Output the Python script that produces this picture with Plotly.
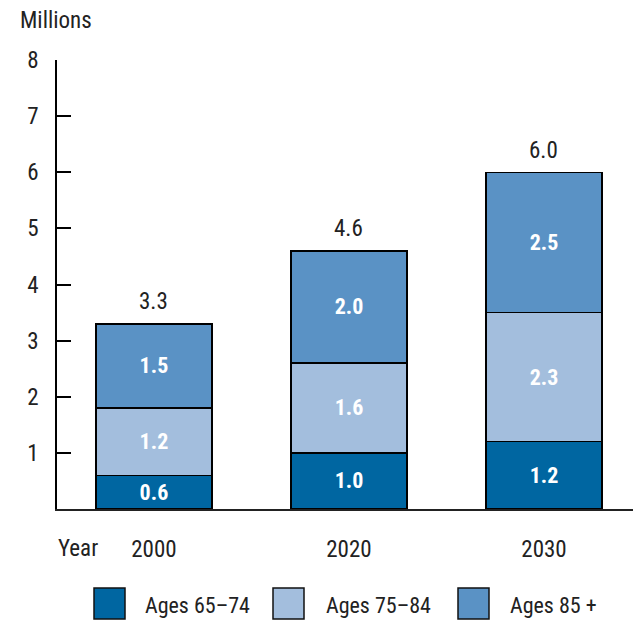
import plotly.graph_objects as go

years = ["2000", "2020", "2030"]
series_names = ["Ages 65\u201374", "Ages 75\u201384", "Ages 85 +"]
ages_65_74 = [0.6, 1.0, 1.2]
ages_75_84 = [1.2, 1.6, 2.3]
ages_85_plus = [1.5, 2.0, 2.5]
totals = [3.3, 4.6, 6.0]
y_ticks = [1, 2, 3, 4, 5, 6, 7, 8]

colors = ["#0066A1", "#A3BEDD", "#5A92C5"]
FONT = "Liberation Sans Narrow, Arial Narrow, Roboto Condensed, sans-serif"
TXT = "#222222"
FS = 23

OFF = 8  # page body margin
W, H = 641 - OFF, 624 - OFF
L, R, T, B = 57 - OFF, 638 - OFF, 60 - OFF, 509 - OFF

def px_x(px):
    return (px - OFF - L) / (R - L)

def px_y(py):
    return (B - (py - OFF)) / (B - T)

xpos = list(range(len(years)))
fig = go.Figure()
for name, vals, col in zip(series_names, [ages_65_74, ages_75_84, ages_85_plus], colors):
    fig.add_trace(go.Bar(
        x=xpos, y=vals, name=name, width=0.595,
        marker=dict(color=col, line=dict(color="#000000", width=1.5)),
        text=[f"{v:.1f}" for v in vals],
        textposition="inside", insidetextanchor="middle",
        textfont=dict(family=FONT, size=22, color="white", weight="bold"),
        constraintext="none",
        showlegend=False, hoverinfo="skip",
    ))

annotations = []
for xp, tot in zip(xpos, totals):
    annotations.append(dict(x=xp, y=tot, xref="x", yref="y", text=f"{tot:.1f}",
                            showarrow=False, yanchor="middle", yshift=22,
                            font=dict(family=FONT, size=FS, color=TXT)))
annotations.append(dict(x=px_x(18), y=px_y(20), xref="paper", yref="paper",
                        text="Millions", showarrow=False, xanchor="left", yanchor="middle",
                        font=dict(family=FONT, size=FS, color=TXT)))
annotations.append(dict(x=px_x(56), y=px_y(548), xref="paper", yref="paper",
                        text="Year", showarrow=False, xanchor="left", yanchor="middle",
                        font=dict(family=FONT, size=FS, color=TXT)))

shapes = []
legend_box_x = [94, 273, 458]
legend_text_x = [143, 324, 508]
for name, col, bx, tx in zip(series_names, colors, legend_box_x, legend_text_x):
    shapes.append(dict(type="rect", xref="paper", yref="paper",
                       x0=px_x(bx), x1=px_x(bx + 31), y0=px_y(619), y1=px_y(588),
                       fillcolor=col, line=dict(color="#111111", width=1.5)))
    annotations.append(dict(x=px_x(tx), y=px_y(605), xref="paper", yref="paper",
                            text=name, showarrow=False, xanchor="left", yanchor="middle",
                            font=dict(family=FONT, size=22, color=TXT)))

fig.update_layout(
    barmode="stack",
    width=W, height=H,
    margin=dict(l=L, r=W - R, t=T, b=H - B, pad=0),
    paper_bgcolor="white", plot_bgcolor="white",
    font=dict(family=FONT, size=FS, color=TXT),
    annotations=annotations, shapes=shapes,
    showlegend=False,
    xaxis=dict(range=[-0.497, 2.482], tickvals=xpos, ticktext=years,
               showline=True, linecolor="#222222", linewidth=1.5,
               showgrid=False, zeroline=False, ticks="",
               ticklabelstandoff=19, fixedrange=True),
    yaxis=dict(range=[0, 8], tickvals=y_ticks,
               showline=True, linecolor="#000000", linewidth=1.5,
               ticks="inside", ticklen=14, tickwidth=1.5, tickcolor="#000000",
               showgrid=False, zeroline=False, ticklabelstandoff=12,
               fixedrange=True),
)

fig.write_html("out.html")
